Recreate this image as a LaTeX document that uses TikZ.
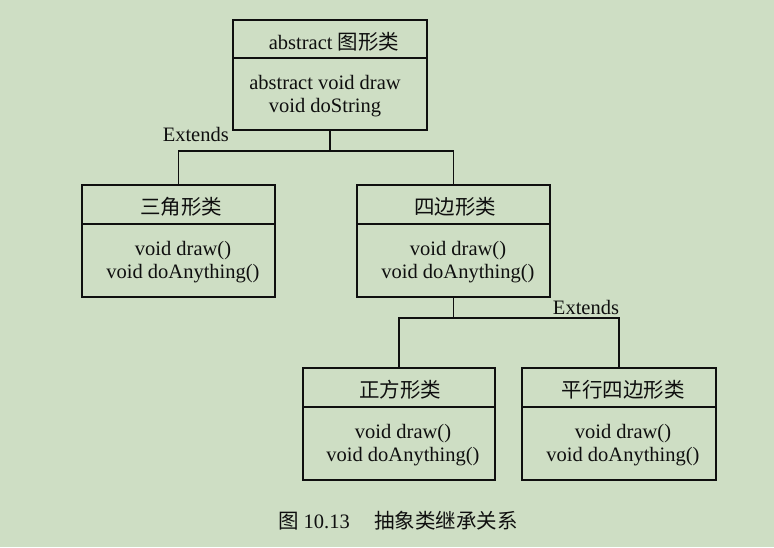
\documentclass[tikz,border=0pt]{standalone}
\usepackage{fontspec}
\setmainfont{Liberation Serif}
\newfontfamily\cjk{Noto Sans CJK SC}
\definecolor{bg}{RGB}{206,222,196}
\definecolor{ink}{RGB}{15,15,15}
\begin{document}
\begin{tikzpicture}[x=1pt,y=-1pt,
  font=\fontsize{20.5}{23}\selectfont,
  cls/.style={draw=ink,line width=1.5pt,rectangle,inner sep=0pt},
  txt/.style={inner sep=0pt,align=center,text=ink},
  conn/.style={draw=ink,line width=1.5pt},
  lbl/.style={inner sep=0pt,text=ink}]
\fill[bg] (0,0) rectangle (774,547);
\useasboundingbox (0,0) rectangle (774,547);
% boxes
\node[cls,minimum width=194pt,minimum height=110pt] (top) at (330,75) {};
\node[cls,minimum width=193pt,minimum height=112pt] (tri) at (178.5,241) {};
\node[cls,minimum width=193pt,minimum height=112pt] (quad) at (453.5,241) {};
\node[cls,minimum width=192pt,minimum height=112pt] (sq) at (399,424) {};
\node[cls,minimum width=194pt,minimum height=112pt] (para) at (619,424) {};
% dividers
\draw[conn] (top.west |- 0,58) -- (top.east |- 0,58);
\draw[conn] (tri.west |- 0,224) -- (tri.east |- 0,224);
\draw[conn] (quad.west |- 0,224) -- (quad.east |- 0,224);
\draw[conn] (sq.west |- 0,407) -- (sq.east |- 0,407);
\draw[conn] (para.west |- 0,407) -- (para.east |- 0,407);
% texts
\node[txt] (topT) at (334,42) {abstract {\cjk 图形类}};
\node[txt] (topB) at (325,96) {abstract void draw\\void doString};
\node[txt] (triT) at (181,207) {\cjk 三角形类};
\node[txt] (triB) at (183,262) {void draw()\\void doAnything()};
\node[txt] (quadT) at (455,207) {\cjk 四边形类};
\node[txt] (quadB) at (458,262) {void draw()\\void doAnything()};
\node[txt] (sqT) at (400,390) {\cjk 正方形类};
\node[txt] (sqB) at (403,445) {void draw()\\void doAnything()};
\node[txt] (paraT) at (623,390) {\cjk 平行四边形类};
\node[txt] (paraB) at (623,445) {void draw()\\void doAnything()};
% connectors
\coordinate (j1) at (330,151);
\coordinate (j2) at (453.5,318);
\draw[conn] (top.south) -- (j1);
\draw[conn] (tri.north) |- (quad.north |- j1) -- (quad.north);
\draw[conn] (quad.south) -- (j2);
\draw[conn] (sq.north) |- (para.north |- j2) -- (para.north);
% labels
\node[lbl,anchor=east] (ext1) at (229,134) {Extends};
\node[lbl] (ext2) at (586,307) {Extends};
% caption
\node[lbl] (cap) at (398,521) {{\cjk 图} 10.13\hspace{1.2em}{\cjk 抽象类继承关系}};
\end{tikzpicture}
\end{document}
